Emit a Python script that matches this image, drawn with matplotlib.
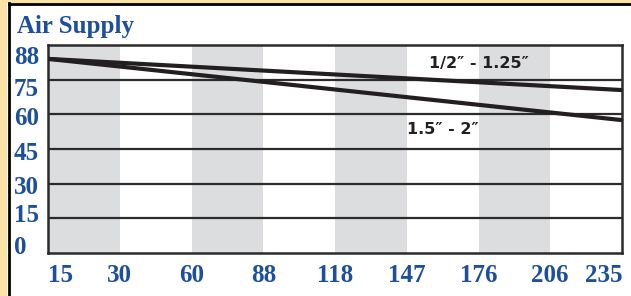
import matplotlib
matplotlib.use('Agg')
import matplotlib.pyplot as plt
from matplotlib.patches import Rectangle
from matplotlib.lines import Line2D
from matplotlib.transforms import ScaledTranslation

# data
x_labels = ['15', '30', '60', '88', '118', '147', '176', '206', '235']
y_ticks = [0, 15, 30, 45, 60, 75, 88]
x_ends = [0, 8]
small_pipe = [84, 70.5]    # 1/2" - 1.25"
large_pipe = [84, 57.5]    # 1.5" - 2"

blue = '#1d4f9c'
dark = '#231f20'

fig = plt.figure(figsize=(6.31, 2.96), dpi=100, facecolor='white')

# beige frame and black border of the panel
fig.patches.append(Rectangle((0, 0), 7 / 631, 1, transform=fig.transFigure,
                             facecolor='#fbe3a6', edgecolor='none', zorder=0))
fig.patches.append(Rectangle((0, 1 - 2.5 / 296), 1, 2.5 / 296, transform=fig.transFigure,
                             facecolor='#fbe3a6', edgecolor='none', zorder=0))
fig.lines.append(Line2D([8.5 / 631, 8.5 / 631], [0, 1 - 3 / 296], transform=fig.transFigure,
                        color='black', lw=2))
fig.lines.append(Line2D([8.5 / 631, 1], [1 - 3.5 / 296, 1 - 3.5 / 296], transform=fig.transFigure,
                        color='black', lw=2))

ax = fig.add_axes([48 / 631, 1 - 253 / 296, 574 / 631, 208 / 296])
ax.set_xlim(0, 8)
ax.set_ylim(0, 90)

# alternating grey columns
for i in range(0, 8, 2):
    ax.axvspan(i, i + 1, color='#dcdddf', lw=0, zorder=0)

for v in y_ticks[1:-1]:
    ax.axhline(v, color='#2b2b2b', lw=1.6, zorder=1)

ax.plot(x_ends, small_pipe, color=dark, lw=3, zorder=3, solid_capstyle='butt')
ax.plot(x_ends, large_pipe, color=dark, lw=3, zorder=3, solid_capstyle='butt')

ax.text(6.0, 82.2, '1/2\u2033 - 1.25\u2033', fontsize=11.5, fontweight='bold',
        family='DejaVu Sans', color=dark, ha='center', va='center')
ax.text(5.5, 53.6, '1.5\u2033 - 2\u2033', fontsize=11.5, fontweight='bold',
        family='DejaVu Sans', color=dark, ha='center', va='center')

for s in ax.spines.values():
    s.set_color('#2b2b2b')
    s.set_linewidth(1.8)

ax.set_xticks(range(9))
ax.set_xticklabels(x_labels)
ax.set_yticks(y_ticks)
ax.set_yticklabels([str(v) for v in y_ticks])
ax.tick_params(length=0, labelsize=18, labelcolor=blue)
ax.tick_params(axis='x', pad=8)
ax.tick_params(axis='y', pad=24.5)
for lab in ax.get_xticklabels() + ax.get_yticklabels():
    lab.set_family('Liberation Serif')
    lab.set_fontweight('bold')
ax.get_xticklabels()[0].set_ha('left')
ax.get_xticklabels()[-1].set_ha('right')

# the y labels in the original sit evenly spaced, a bit off the grid lines
shifts = [8, 5, -1, -2, -2, -7, -5]
for lab, dy in zip(ax.get_yticklabels(), shifts):
    lab.set_ha('left')
    lab.set_transform(lab.get_transform() + ScaledTranslation(0, dy / 100, fig.dpi_scale_trans))

fig.text(17 / 631, 1 - 26 / 296, 'Air Supply', fontsize=18, fontweight='bold',
         family='Liberation Serif', color=blue, ha='left', va='center')

fig.savefig('out.png', dpi=100, facecolor=fig.get_facecolor())
